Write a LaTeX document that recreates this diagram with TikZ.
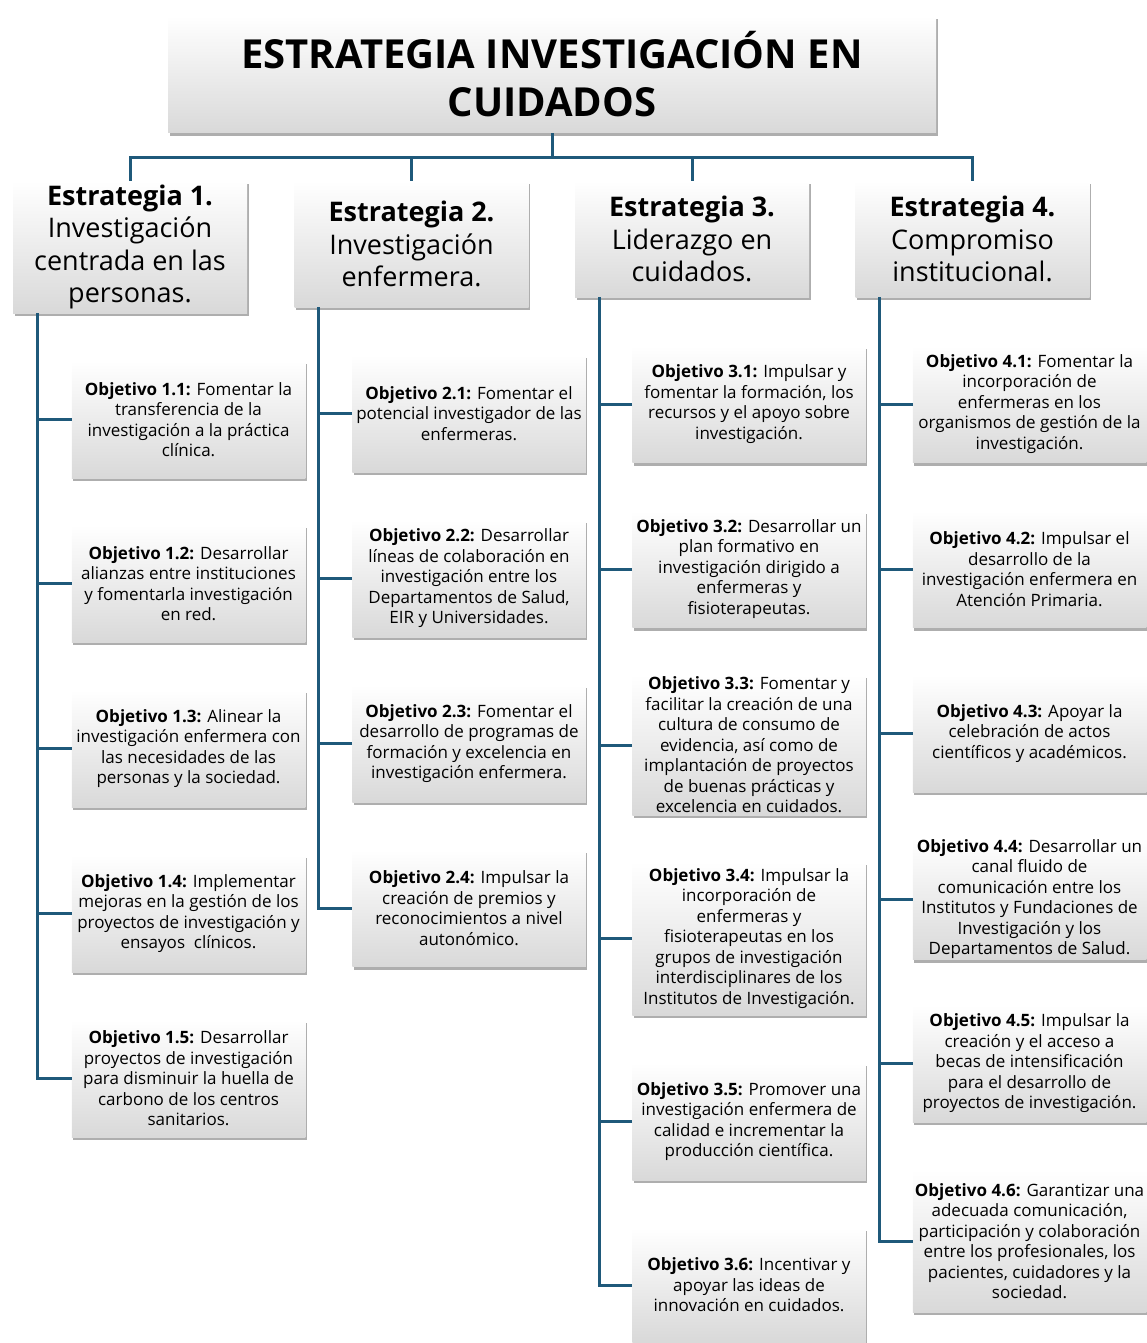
\documentclass[tikz,border=0pt]{standalone}
\usepackage{fontspec}
\setmainfont{Open Sans}
\usetikzlibrary{positioning,shadows}
\definecolor{linecol}{RGB}{31,89,122}

\begin{document}
\begin{tikzpicture}
[x=1pt,y=1pt,
 box/.style={top color=white,bottom color=black!15,draw=none,inner sep=1pt,align=center,
             drop shadow={shadow xshift=1.5pt,shadow yshift=-3pt,opacity=.45,fill=black!70}},
 titl/.style={box,minimum width=768pt,minimum height=117pt,font=\fontsize{40}{48}\selectfont\bfseries},
 strat/.style={box,minimum width=234pt,font=\fontsize{27}{32.5}\selectfont},
 obj/.style={box,minimum width=233.5pt,minimum height=117pt,font=\fontsize{17}{20.5}\selectfont},
 link/.style={draw=linecol,line width=3pt}]
\useasboundingbox (0,0) rectangle (1146,-1343);
\node[titl] (t) at (552,-74.5) {ESTRATEGIA INVESTIGACIÓN EN\\CUIDADOS};
\node[strat,minimum height=132pt] (e1) [on grid,below  left=172.5pt and 422pt of t] {\textbf{Estrategia 1.}\\Investigación\\centrada en las\\personas.};
\node[strat,minimum height=126pt] (e2) [on grid,below  left=169.5pt and 140.5pt of t] {\textbf{Estrategia 2.}\\Investigación\\enfermera.};
\node[strat,minimum height=116pt] (e3) [on grid,below right=164.5pt and 140pt of t] {\textbf{Estrategia 3.}\\Liderazgo en\\cuidados.};
\node[strat,minimum height=116pt] (e4) [on grid,below right=164.5pt and 420.5pt of t] {\textbf{Estrategia 4.}\\Compromiso\\institucional.};
\node[obj] (o11) [on grid,below right=172.5pt and 58.5pt of e1] {\textbf{Objetivo 1.1:} Fomentar la\\transferencia de la\\investigación a la práctica\\clínica.};
\node[obj] (o12) [on grid,below=164pt of o11] {\textbf{Objetivo 1.2:} Desarrollar\\alianzas entre instituciones\\y fomentarla investigación\\en red.};
\node[obj] (o13) [on grid,below=165pt of o12] {\textbf{Objetivo 1.3:} Alinear la\\investigación enfermera con\\las necesidades de las\\personas y la sociedad.};
\node[obj] (o14) [on grid,below=165pt of o13] {\textbf{Objetivo 1.4:} Implementar\\mejoras en la gestión de los\\proyectos de investigación y\\ensayos\ \ clínicos.};
\node[obj] (o15) [on grid,below=165pt of o14] {\textbf{Objetivo 1.5:} Desarrollar\\proyectos de investigación\\para disminuir la huella de\\carbono de los centros\\sanitarios.};
\node[obj] (o21) [on grid,below right=169.5pt and 57.5pt of e2] {\textbf{Objetivo 2.1:} Fomentar el\\potencial investigador de las\\enfermeras.};
\node[obj] (o22) [on grid,below=165pt of o21] {\textbf{Objetivo 2.2:} Desarrollar\\líneas de colaboración en\\investigación entre los\\Departamentos de Salud,\\EIR y Universidades.};
\node[obj] (o23) [on grid,below=165pt of o22] {\textbf{Objetivo 2.3:} Fomentar el\\desarrollo de programas de\\formación y excelencia en\\investigación enfermera.};
\node[obj] (o24) [on grid,below=164.5pt of o23] {\textbf{Objetivo 2.4:} Impulsar la\\creación de premios y\\reconocimientos a nivel\\autonómico.};
\node[obj] (o31) [on grid,below right=165pt and 57pt of e3] {\textbf{Objetivo 3.1:} Impulsar y\\fomentar la formación, los\\recursos y el apoyo sobre\\investigación.};
\node[obj] (o32) [on grid,below=165pt of o31] {\textbf{Objetivo 3.2:} Desarrollar un\\plan formativo en\\investigación dirigido a\\enfermeras y\\fisioterapeutas.};
\node[obj,minimum height=140pt] (o33) [on grid,below=176pt of o32] {\textbf{Objetivo 3.3:} Fomentar y\\facilitar la creación de una\\cultura de consumo de\\evidencia, así como de\\implantación de proyectos\\de buenas prácticas y\\excelencia en cuidados.};
\node[obj,minimum height=153pt] (o34) [on grid,below=193.5pt of o33] {\textbf{Objetivo 3.4:} Impulsar la\\incorporación de\\enfermeras y\\fisioterapeutas en los\\grupos de investigación\\interdisciplinares de los\\Institutos de Investigación.};
\node[obj] (o35) [on grid,below=183pt of o34] {\textbf{Objetivo 3.5:} Promover una\\investigación enfermera de\\calidad e incrementar la\\producción científica.};
\node[obj,minimum height=114pt] (o36) [on grid,below=163.5pt of o35] {\textbf{Objetivo 3.6:} Incentivar y\\apoyar las ideas de\\innovación en cuidados.};
\node[obj] (o41) [on grid,below right=165pt and 57pt of e4] {\textbf{Objetivo 4.1:} Fomentar la\\incorporación de\\enfermeras en los\\organismos de gestión de la\\investigación.};
\node[obj] (o42) [on grid,below=165pt of o41] {\textbf{Objetivo 4.2:} Impulsar el\\desarrollo de la\\investigación enfermera en\\Atención Primaria.};
\node[obj] (o43) [on grid,below=164.5pt of o42] {\textbf{Objetivo 4.3:} Apoyar la\\celebración de actos\\científicos y académicos.};
\node[obj,minimum height=118pt] (o44) [on grid,below=165.5pt of o43] {\textbf{Objetivo 4.4:} Desarrollar un\\canal fluido de\\comunicación entre los\\Institutos y Fundaciones de\\Investigación y los\\Departamentos de Salud.};
\node[obj] (o45) [on grid,below=164.5pt of o44] {\textbf{Objetivo 4.5:} Impulsar la\\creación y el acceso a\\becas de intensificación\\para el desarrollo de\\proyectos de investigación.};
\node[obj,minimum height=142pt] (o46) [on grid,below=177.5pt of o45] {\textbf{Objetivo 4.6:} Garantizar una\\adecuada comunicación,\\participación y colaboración\\entre los profesionales, los\\pacientes, cuidadores y la\\sociedad.};
\coordinate[below=24pt of t.south] (bus);
\coordinate[right=24.5pt of e1.south west] (s1);
\coordinate[right=24.5pt of e2.south west] (s2);
\coordinate[right=24.5pt of e3.south west] (s3);
\coordinate[right=24.5pt of e4.south west] (s4);
\draw[link] (t.south) -- (bus);
\draw[link] (e1.north) |- (bus);
\draw[link] (e2.north) |- (bus);
\draw[link] (e3.north) |- (bus);
\draw[link] (e4.north) |- (bus);
\draw[link] (s1) |- (o15.west);
\draw[link] (o11.west) -- (o11.west -| s1);
\draw[link] (o12.west) -- (o12.west -| s1);
\draw[link] (o13.west) -- (o13.west -| s1);
\draw[link] (o14.west) -- (o14.west -| s1);
\draw[link] (s2) |- (o24.west);
\draw[link] (o21.west) -- (o21.west -| s2);
\draw[link] (o22.west) -- (o22.west -| s2);
\draw[link] (o23.west) -- (o23.west -| s2);
\draw[link] (s3) |- (o36.west);
\draw[link] (o31.west) -- (o31.west -| s3);
\draw[link] (o32.west) -- (o32.west -| s3);
\draw[link] (o33.west) -- (o33.west -| s3);
\draw[link] (o34.west) -- (o34.west -| s3);
\draw[link] (o35.west) -- (o35.west -| s3);
\draw[link] (s4) |- (o46.west);
\draw[link] (o41.west) -- (o41.west -| s4);
\draw[link] (o42.west) -- (o42.west -| s4);
\draw[link] (o43.west) -- (o43.west -| s4);
\draw[link] (o44.west) -- (o44.west -| s4);
\draw[link] (o45.west) -- (o45.west -| s4);
\end{tikzpicture}
\end{document}
